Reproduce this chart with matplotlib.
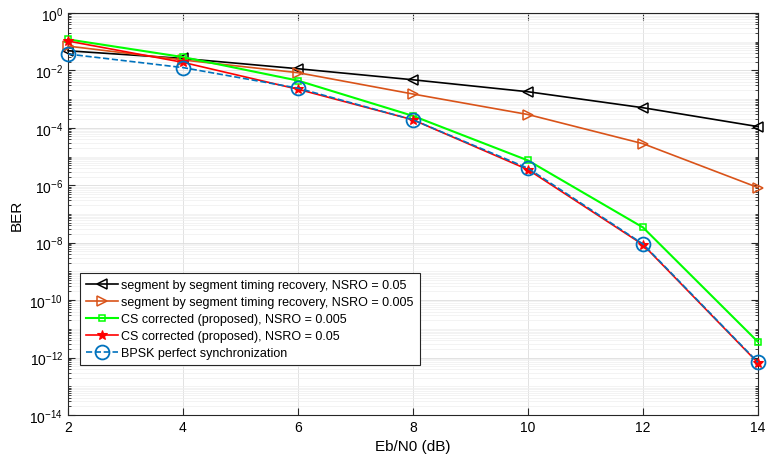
import numpy as np
import matplotlib
matplotlib.use('Agg')
import matplotlib.pyplot as plt
from matplotlib.ticker import LogLocator, NullFormatter, FixedLocator

plt.rcParams['font.family'] = ['Liberation Sans', 'DejaVu Sans']

ebn0 = [2, 4, 6, 8, 10, 12, 14]
ber_seg_005 = [0.048, 0.026, 0.0114, 0.0047, 1.8e-3, 5e-4, 1.1e-4]
ber_seg_0005 = [0.07, 0.023, 0.0083, 0.0015, 2.9e-4, 2.8e-5, 8.3e-7]
ber_cs_0005 = [0.12, 0.029, 0.0044, 2.6e-4, 7.3e-6, 3.4e-8, 3.5e-12]
ber_cs_005 = [0.105, 0.019, 0.0022, 1.9e-4, 3.5e-6, 8.5e-9, 6.5e-13]
ber_bpsk = [0.037, 0.0125, 0.0024, 1.9e-4, 3.9e-6, 9e-9, 6.8e-13]

labels = ['segment by segment timing recovery, NSRO = 0.05',
          'segment by segment timing recovery, NSRO = 0.005',
          'CS corrected (proposed), NSRO = 0.005',
          'CS corrected (proposed), NSRO = 0.05',
          'BPSK perfect synchronization']

fig = plt.figure(figsize=(7.68, 4.64), dpi=100)
ax = fig.add_axes([0.0885, 0.1034, 0.8985, 0.8666])

kw = dict(clip_on=False, zorder=3)
ax.semilogy(ebn0, ber_seg_005, '-<', color='black', lw=1.2, ms=7, mfc='none', mew=1.1, label=labels[0], **kw)
ax.semilogy(ebn0, ber_seg_0005, '->', color='#D95319', lw=1.2, ms=7, mfc='none', mew=1.1, label=labels[1], **kw)
ax.semilogy(ebn0, ber_cs_0005, '-s', color='#00FF00', lw=1.5, ms=5, mfc='none', mew=1.1, label=labels[2], **kw)
ax.semilogy(ebn0, ber_cs_005, '-*', color='red', lw=1.2, ms=7, mew=0.8, label=labels[3], **kw)
ax.semilogy(ebn0, ber_bpsk, '--o', color='#0072BD', lw=1.2, ms=10, mfc='none', mew=1.3, label=labels[4], **kw)

ax.set_xlim(2, 14)
ax.set_ylim(1e-14, 1)
ax.set_xticks(ebn0)
ax.yaxis.set_major_locator(FixedLocator([10.0 ** e for e in range(-14, 1, 2)]))
ax.yaxis.set_minor_locator(LogLocator(base=10, subs=np.arange(1, 10), numticks=40))
ax.yaxis.set_minor_formatter(NullFormatter())
ax.tick_params(which='both', direction='in', top=True, right=True, labelsize=10, color='#262626')
ax.tick_params(which='major', length=5)
ax.tick_params(which='minor', length=2.5)
ax.grid(True, which='major', color='#dddddd', lw=0.6)
ax.grid(True, which='minor', axis='y', color='#eeeeee', lw=0.5)
for s in ax.spines.values():
    s.set_color('#262626')
    s.set_linewidth(0.8)

ax.set_xlabel('Eb/N0 (dB)', fontsize=11)
ax.set_ylabel('BER', fontsize=11)

leg = ax.legend(loc='lower left', bbox_to_anchor=(0.017, 0.124), fontsize=9,
                fancybox=False, edgecolor='#262626', framealpha=1, handlelength=2.6,
                borderpad=0.5, labelspacing=0.4, handletextpad=0.2, borderaxespad=0)
leg.get_frame().set_linewidth(0.8)

fig.savefig('out.png', dpi=100)
